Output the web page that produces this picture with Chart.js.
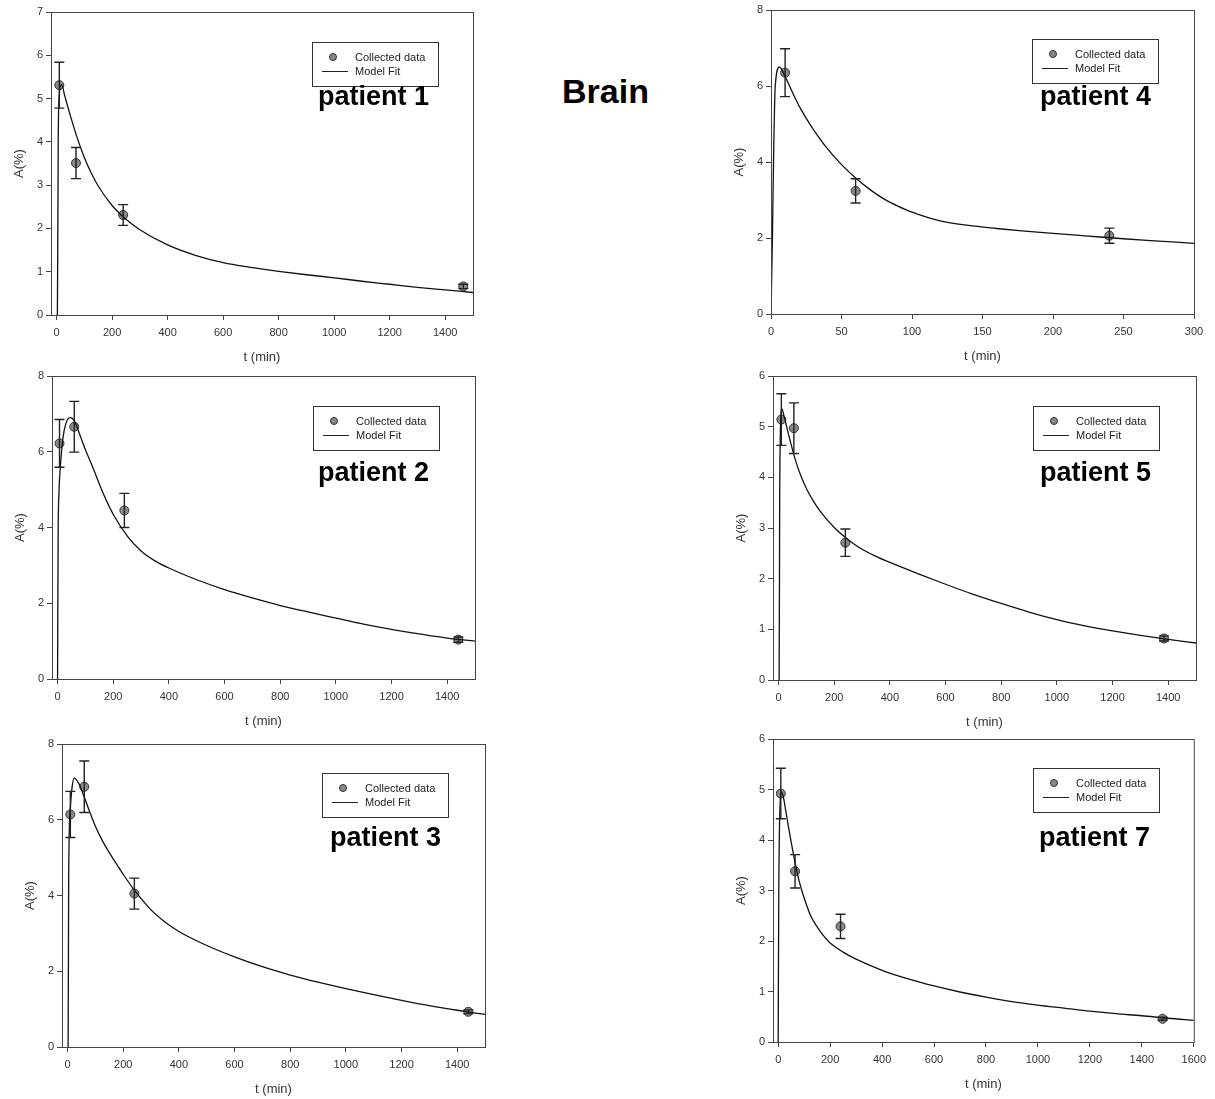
<!DOCTYPE html>
<html>
<head>
<meta charset="utf-8">
<script src="https://cdn.jsdelivr.net/npm/chart.js@4.4.1/dist/chart.umd.min.js"></script>
<style>
  body { margin: 0; background: #fff; width: 1215px; height: 1099px; position: relative; overflow: hidden;
         font-family: "Liberation Sans", Arial, sans-serif; }
  .panel { position: absolute; }
  .legend { position: absolute; width: 127px; height: 45px; box-sizing: border-box; border: 1.3px solid #333;
            background: #fff; font-size: 11px; color: #222; }
  .legend .dot { position: absolute; left: 16px; top: 10px; width: 8px; height: 8px; border-radius: 50%;
                 background: #888; border: 1px solid #333; box-sizing: border-box; }
  .legend .dash { position: absolute; left: 9px; top: 28px; width: 26px; height: 0; border-top: 1.2px solid #222; }
  .legend .t1, .legend .t2 { position: absolute; left: 42px; line-height: 12px; }
  .legend .t1 { top: 8px; }
  .legend .t2 { top: 22px; }
  .patient { position: absolute; font-size: 27px; font-weight: bold; line-height: 1; color: #000; white-space: nowrap; }
  .title { position: absolute; font-size: 34px; font-weight: bold; line-height: 1; color: #000; }
</style>
</head>
<body>
<div class="title" style="left:562px; top:74px;">Brain</div>

<script>
// =============================================================================
// DATA
// =============================================================================

// patient 1
const p1Times = [10, 70, 240, 1465];
const p1Values = [5.31, 3.51, 2.31, 0.66];
const p1Errors = [0.53, 0.36, 0.24, 0.05];
const p1FitTimes = [0, 3, 6, 10, 18, 30, 50, 75, 100, 125, 150, 200, 250, 300, 400, 500, 600, 700, 800, 900, 1000, 1100, 1200, 1300, 1400, 1500];
const p1FitValues = [0, 0, 4.0, 5.1, 5.32, 5.05, 4.6, 4.08, 3.64, 3.28, 2.98, 2.53, 2.21, 1.97, 1.62, 1.38, 1.21, 1.10, 1.01, 0.93, 0.86, 0.78, 0.71, 0.64, 0.58, 0.52];

// patient 4
const p4Times = [10, 60, 240];
const p4Values = [6.35, 3.24, 2.06];
const p4Errors = [0.63, 0.32, 0.20];
const p4FitTimes = [0, 1, 2, 3, 6, 10, 15, 20, 25, 30, 40, 50, 60, 70, 80, 90, 100, 120, 140, 160, 180, 200, 225, 250, 275, 300];
const p4FitValues = [0, 2.0, 4.5, 6.0, 6.5, 6.25, 5.85, 5.47, 5.15, 4.86, 4.35, 3.93, 3.58, 3.28, 3.03, 2.84, 2.68, 2.45, 2.33, 2.25, 2.18, 2.12, 2.05, 1.98, 1.92, 1.86];

// patient 2
const p2Times = [7, 60, 240, 1440];
const p2Values = [6.22, 6.66, 4.45, 1.04];
const p2Errors = [0.63, 0.67, 0.45, 0.07];
const p2FitTimes = [0, 2, 5, 10, 20, 30, 45, 60, 80, 100, 125, 150, 175, 200, 250, 300, 350, 400, 500, 600, 700, 800, 900, 1000, 1100, 1200, 1300, 1400, 1500];
const p2FitValues = [0, 3.7, 4.9, 5.6, 6.4, 6.75, 6.9, 6.82, 6.45, 6.05, 5.62, 5.15, 4.72, 4.35, 3.78, 3.38, 3.12, 2.93, 2.62, 2.36, 2.14, 1.94, 1.77, 1.61, 1.45, 1.31, 1.19, 1.08, 1.0];

// patient 5
const p5Times = [10, 55, 240, 1385];
const p5Values = [5.14, 4.97, 2.71, 0.82];
const p5Errors = [0.51, 0.50, 0.27, 0.05];
const p5FitTimes = [0, 2, 4, 7, 12, 20, 30, 45, 60, 80, 100, 125, 150, 200, 250, 300, 350, 400, 500, 600, 700, 800, 900, 1000, 1100, 1200, 1300, 1400, 1500];
const p5FitValues = [0, 0, 3.5, 5.0, 5.35, 5.2, 4.98, 4.65, 4.35, 4.03, 3.78, 3.53, 3.33, 3.01, 2.77, 2.58, 2.44, 2.32, 2.1, 1.89, 1.69, 1.51, 1.34, 1.19, 1.07, 0.97, 0.88, 0.80, 0.73];

// patient 3
const p3Times = [10, 60, 240, 1440];
const p3Values = [6.14, 6.87, 4.05, 0.93];
const p3Errors = [0.61, 0.68, 0.41, 0.05];
const p3FitTimes = [0, 2, 4, 10, 16, 24, 40, 60, 80, 100, 125, 150, 200, 240, 300, 350, 400, 500, 600, 700, 800, 900, 1000, 1100, 1200, 1300, 1400, 1500];
const p3FitValues = [0, 0, 4.5, 6.3, 6.85, 7.1, 6.96, 6.6, 6.2, 5.83, 5.45, 5.13, 4.56, 4.14, 3.62, 3.3, 3.05, 2.68, 2.38, 2.12, 1.9, 1.71, 1.54, 1.38, 1.23, 1.09, 0.97, 0.86];

// patient 7
const p7Times = [10, 65, 240, 1480];
const p7Values = [4.92, 3.38, 2.29, 0.46];
const p7Errors = [0.50, 0.33, 0.24, 0.03];
const p7FitTimes = [0, 2, 6, 13, 20, 30, 45, 65, 80, 100, 125, 150, 175, 200, 250, 300, 400, 500, 600, 700, 800, 900, 1000, 1100, 1200, 1300, 1400, 1500, 1600];
const p7FitValues = [0, 2.7, 4.5, 4.95, 4.85, 4.55, 4.1, 3.55, 3.2, 2.85, 2.5, 2.28, 2.1, 1.96, 1.78, 1.64, 1.42, 1.25, 1.11, 0.99, 0.89, 0.80, 0.73, 0.67, 0.61, 0.56, 0.52, 0.47, 0.43];

// tick labels
const xTicksDay = [0, 200, 400, 600, 800, 1000, 1200, 1400];
const xTicksP7 = [0, 200, 400, 600, 800, 1000, 1200, 1400, 1600];
const xTicksP4 = [0, 50, 100, 150, 200, 250, 300];
const yTicks7 = [0, 1, 2, 3, 4, 5, 6, 7];
const yTicks6 = [0, 1, 2, 3, 4, 5, 6];
const yTicks8 = [0, 2, 4, 6, 8];

// =============================================================================
// LAYOUT
// =============================================================================

const Y_AXIS_W = 43;
const X_AXIS_H = 54;
const PAD_TOP = 12;
const PAD_RIGHT = 16;
const FONT = '"Liberation Sans", Arial, sans-serif';

const panels = [
    { name: 'patient 1', plot: [51, 12, 473, 315], xMin: -20, xMax: 1500, xTicks: xTicksDay, yMax: 7, yTicks: yTicks7,
      times: p1Times, values: p1Values, errors: p1Errors, fitT: p1FitTimes, fitV: p1FitValues,
      legend: [312, 42], label: [318, 83] },
    { name: 'patient 4', plot: [771, 10, 1194, 314], xMin: 0, xMax: 300, xTicks: xTicksP4, yMax: 8, yTicks: yTicks8,
      times: p4Times, values: p4Values, errors: p4Errors, fitT: p4FitTimes, fitV: p4FitValues,
      legend: [1032, 39], label: [1040, 83] },
    { name: 'patient 2', plot: [52, 376, 475, 679], xMin: -20, xMax: 1500, xTicks: xTicksDay, yMax: 8, yTicks: yTicks8,
      times: p2Times, values: p2Values, errors: p2Errors, fitT: p2FitTimes, fitV: p2FitValues,
      legend: [313, 406], label: [318, 459] },
    { name: 'patient 5', plot: [773, 376, 1196, 680], xMin: -20, xMax: 1500, xTicks: xTicksDay, yMax: 6, yTicks: yTicks6,
      times: p5Times, values: p5Values, errors: p5Errors, fitT: p5FitTimes, fitV: p5FitValues,
      legend: [1033, 406], label: [1040, 459] },
    { name: 'patient 3', plot: [62, 744, 485, 1047], xMin: -20, xMax: 1500, xTicks: xTicksDay, yMax: 8, yTicks: yTicks8,
      times: p3Times, values: p3Values, errors: p3Errors, fitT: p3FitTimes, fitV: p3FitValues,
      legend: [322, 773], label: [330, 824] },
    { name: 'patient 7', plot: [773, 739, 1196, 1042], xMin: -20, xMax: 1600, xTicks: xTicksP7, yMax: 6, yTicks: yTicks6,
      times: p7Times, values: p7Values, errors: p7Errors, fitT: p7FitTimes, fitV: p7FitValues,
      legend: [1033, 768], label: [1039, 824] }
];

// =============================================================================
// PLUGINS
// =============================================================================

// error bars with caps, drawn through the chart's scales
const errorBarPlugin = {
    id: 'errorBars',
    afterDatasetsDraw(chart, args, opts) {
        const { ctx, scales: { x, y } } = chart;
        ctx.save();
        ctx.strokeStyle = '#222';
        ctx.lineWidth = 1.4;
        opts.times.forEach((t, i) => {
            const px = x.getPixelForValue(t);
            const top = y.getPixelForValue(opts.values[i] + opts.errors[i]);
            const bot = y.getPixelForValue(opts.values[i] - opts.errors[i]);
            ctx.beginPath();
            ctx.moveTo(px, top); ctx.lineTo(px, bot);
            ctx.moveTo(px - 5, top); ctx.lineTo(px + 5, top);
            ctx.moveTo(px - 5, bot); ctx.lineTo(px + 5, bot);
            ctx.stroke();
        });
        ctx.restore();
    }
};

// closed frame around the plot area
const framePlugin = {
    id: 'frame',
    afterDraw(chart) {
        const { ctx, chartArea: a } = chart;
        ctx.save();
        ctx.strokeStyle = '#444';
        ctx.lineWidth = 1;
        ctx.strokeRect(a.left + 0.5, a.top + 0.5, a.right - a.left, a.bottom - a.top);
        ctx.restore();
    }
};

// =============================================================================
// BUILD
// =============================================================================

function addLegend(p) {
    const box = document.createElement('div');
    box.className = 'legend';
    box.style.left = p.legend[0] + 'px';
    box.style.top = p.legend[1] + 'px';
    box.innerHTML = '<span class="dot"></span><span class="t1">Collected data</span>' +
                    '<span class="dash"></span><span class="t2">Model Fit</span>';
    document.body.appendChild(box);

    const lab = document.createElement('div');
    lab.className = 'patient';
    lab.style.left = p.label[0] + 'px';
    lab.style.top = p.label[1] + 'px';
    lab.textContent = p.name;
    document.body.appendChild(lab);
}

function makePanel(p) {
    const [L, T, R, B] = p.plot;
    const canvas = document.createElement('canvas');
    canvas.className = 'panel';
    canvas.width = Y_AXIS_W + (R - L) + PAD_RIGHT;
    canvas.height = PAD_TOP + (B - T) + X_AXIS_H;
    canvas.style.left = (L - Y_AXIS_W) + 'px';
    canvas.style.top = (T - PAD_TOP) + 'px';
    document.body.appendChild(canvas);

    const axisGrid = { display: true, drawOnChartArea: false, drawTicks: true, tickLength: 5, color: '#444', lineWidth: 1 };

    new Chart(canvas.getContext('2d'), {
        data: {
            datasets: [
                {
                    type: 'line',
                    label: 'Model Fit',
                    data: p.fitT.map((t, i) => ({ x: t, y: p.fitV[i] })),
                    borderColor: '#111',
                    borderWidth: 1.3,
                    pointRadius: 0,
                    fill: false,
                    cubicInterpolationMode: 'monotone'
                },
                {
                    type: 'scatter',
                    label: 'Collected data',
                    data: p.times.map((t, i) => ({ x: t, y: p.values[i] })),
                    pointRadius: 4.5,
                    backgroundColor: '#888',
                    borderColor: '#333',
                    borderWidth: 1
                }
            ]
        },
        options: {
            responsive: false,
            animation: false,
            events: [],
            layout: { padding: { top: PAD_TOP, right: PAD_RIGHT, left: 0, bottom: 0 } },
            plugins: {
                legend: { display: false },
                tooltip: { enabled: false },
                errorBars: { times: p.times, values: p.values, errors: p.errors }
            },
            scales: {
                x: {
                    type: 'linear',
                    min: p.xMin,
                    max: p.xMax,
                    grid: axisGrid,
                    border: { display: true, color: '#444' },
                    afterBuildTicks: axis => { axis.ticks = p.xTicks.map(v => ({ value: v })); },
                    afterFit: scale => { scale.height = X_AXIS_H; },
                    ticks: { color: '#333', font: { family: FONT, size: 11 }, padding: 6, maxRotation: 0, autoSkip: false,
                             callback: v => String(v) },
                    title: { display: true, text: 't (min)', color: '#333', font: { family: FONT, size: 13 }, padding: { top: 4, bottom: 4 } }
                },
                y: {
                    type: 'linear',
                    min: 0,
                    max: p.yMax,
                    grid: axisGrid,
                    border: { display: true, color: '#444' },
                    afterBuildTicks: axis => { axis.ticks = p.yTicks.map(v => ({ value: v })); },
                    afterFit: scale => { scale.width = Y_AXIS_W; },
                    ticks: { color: '#333', font: { family: FONT, size: 11 }, padding: 3, autoSkip: false,
                             callback: v => String(v) },
                    title: { display: true, text: 'A(%)', color: '#333', font: { family: FONT, size: 13 }, padding: { top: 4, bottom: 4 } }
                }
            }
        },
        plugins: [errorBarPlugin, framePlugin]
    });

    addLegend(p);
}

panels.forEach(makePanel);
</script>
</body>
</html>
